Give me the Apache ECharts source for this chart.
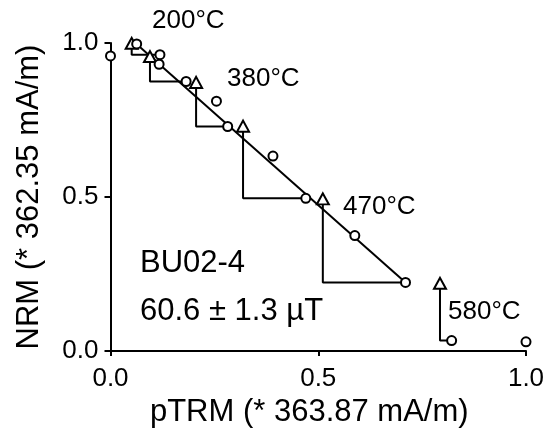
<!DOCTYPE html>
<html>
<head>
<meta charset="utf-8">
<script src="https://cdn.jsdelivr.net/npm/echarts@6/dist/echarts.min.js"></script>
<style>html,body{margin:0;padding:0;background:#fff}#c{width:553px;height:433px}</style>
</head>
<body>
<div id="c"></div>
<script>
// ---- data ----
const nrmPTRM = [0.000, 0.063, 0.119, 0.117, 0.182, 0.255, 0.282, 0.391, 0.470, 0.588, 0.710, 0.821, 1.000];
const nrmNRM  = [0.958, 0.997, 0.962, 0.931, 0.875, 0.811, 0.729, 0.633, 0.496, 0.375, 0.223, 0.034, 0.030];
const checkPTRM = [0.051, 0.095, 0.206, 0.319, 0.511, 0.793];
const checkNRM  = [0.999, 0.956, 0.872, 0.730, 0.494, 0.220];
const checkTarget = [2, 4, 6, 8, 10, 11]; // index of NRM point each check links to
const fitPTRM = [0.068, 0.710];
const fitNRM  = [0.990, 0.223];
const tempLabels = ['200°C', '380°C', '470°C', '580°C'];
const sampleName = 'BU02-4';
const intensityText = '60.6 ± 1.3 µT';
const xTickLabels = ['0.0', '0.5', '1.0'];
const yTickLabels = ['0.0', '0.5', '1.0'];
const xTitle = 'pTRM (* 363.87 mA/m)';
const yTitle = 'NRM (* 362.35 mA/m)';

// ---- chart ----
const FONT = '"Liberation Sans", Arial, sans-serif';
const chart = echarts.init(document.getElementById('c'), null, {renderer: 'canvas'});
const black = '#000';

const checkSeries = checkPTRM.map((x, i) => {
  const t = checkTarget[i];
  return {
    type: 'line', silent: true, symbol: 'none', animation: false, z: 2,
    lineStyle: {color: black, width: 2, opacity: 1},
    data: [[x, checkNRM[i]], [x, nrmNRM[t]], [nrmPTRM[t], nrmNRM[t]]]
  };
});

const labelPos = [
  {left: 152, y: 23},
  {left: 227, y: 81},
  {left: 343, y: 209},
  {left: 448, y: 314}
];

const option = {
  backgroundColor: '#fff',
  animation: false,
  grid: {left: 110.5, right: 27, top: 43, bottom: 80, containLabel: false},
  xAxis: {
    type: 'value', min: 0, max: 1, interval: 0.5,
    name: xTitle, nameLocation: 'middle', nameGap: 45,
    nameTextStyle: {fontFamily: FONT, fontSize: 31, color: black, padding: [0, 18, 0, 0]},
    axisLine: {lineStyle: {color: black, width: 2}},
    axisTick: {show: true, inside: false, length: 5, lineStyle: {color: black, width: 2}},
    axisLabel: {fontFamily: FONT, fontSize: 26, color: black, margin: 15,
      formatter: v => xTickLabels[Math.round(v * 2)]},
    splitLine: {show: false}
  },
  yAxis: {
    type: 'value', min: 0, max: 1, interval: 0.5,
    name: yTitle, nameLocation: 'middle', nameGap: 66,
    nameTextStyle: {fontFamily: FONT, fontSize: 31, color: black},
    axisLine: {lineStyle: {color: black, width: 2}},
    axisTick: {show: true, inside: false, length: 6, lineStyle: {color: black, width: 2}},
    axisLabel: {fontFamily: FONT, fontSize: 26, color: black, margin: 12,
      formatter: v => yTickLabels[Math.round(v * 2)]},
    splitLine: {show: false}
  },
  series: [
    {
      type: 'line', silent: true, symbol: 'none', z: 2,
      lineStyle: {color: black, width: 2, opacity: 1},
      data: fitPTRM.map((x, i) => [x, fitNRM[i]])
    },
    ...checkSeries,
    {
      type: 'scatter', silent: true, z: 4, clip: false,
      symbol: 'triangle', symbolSize: [12, 11],
      itemStyle: {color: '#fff', borderColor: black, borderWidth: 2, opacity: 1},
      data: checkPTRM.map((x, i) => [x, checkNRM[i]])
    },
    {
      type: 'scatter', silent: true, z: 5, clip: false,
      symbol: 'circle', symbolSize: 9,
      itemStyle: {color: '#fff', borderColor: black, borderWidth: 2, opacity: 1},
      data: nrmPTRM.map((x, i) => [x, nrmNRM[i]])
    }
  ],
  graphic: [
    ...tempLabels.map((t, i) => ({
      type: 'text', left: labelPos[i].left, top: labelPos[i].y - 15, z: 10,
      style: {text: t, font: '26px ' + FONT, fill: black}
    })),
    {type: 'text', left: 140, top: 266 - 18, z: 10,
      style: {text: sampleName, font: '31px ' + FONT, fill: black}},
    {type: 'text', left: 140, top: 314 - 18, z: 10,
      style: {text: intensityText, font: '31px ' + FONT, fill: black}}
  ]
};
chart.setOption(option);
</script>
</body>
</html>
